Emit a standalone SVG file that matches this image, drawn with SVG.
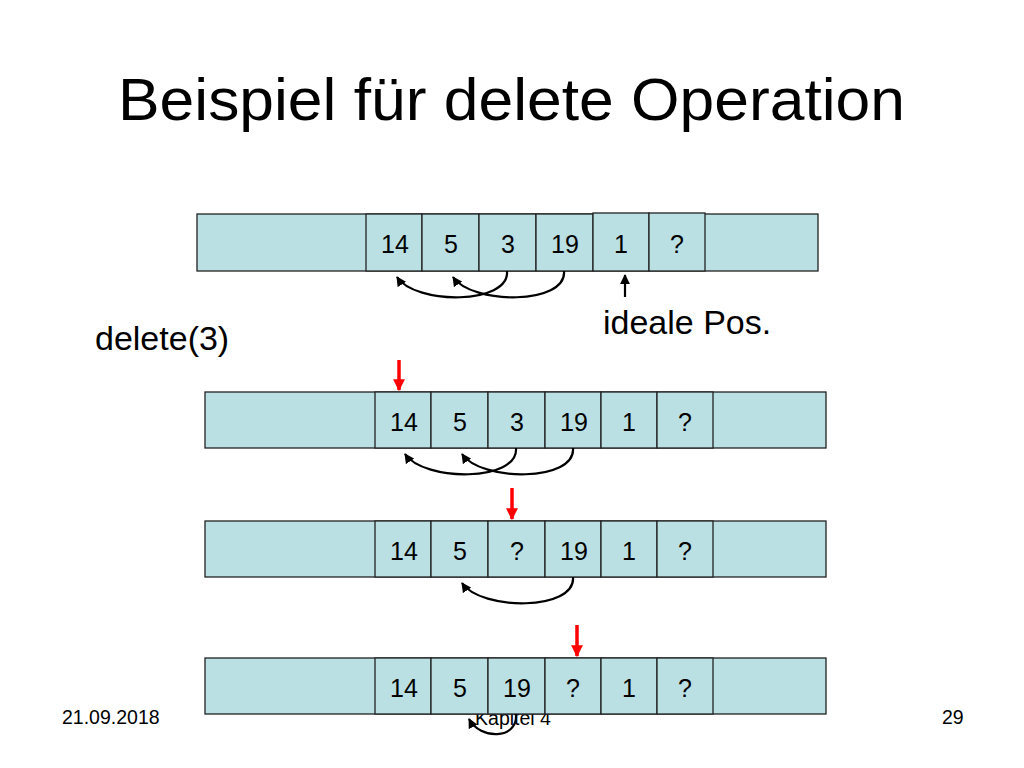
<svg xmlns="http://www.w3.org/2000/svg" width="1024" height="768" viewBox="0 0 1024 768">
<defs>
<style>
.t{font-family:"Liberation Sans",Arial,sans-serif;fill:#000}
.cell{fill:#BBE0E3;stroke:#222;stroke-width:1.3}
.c{font-size:25px;text-anchor:middle}
.f{font-size:19.5px}
.arc{fill:none;stroke:#000;stroke-width:2.2}
.red{stroke:#FF0000;stroke-width:3.5}
</style>
<marker id="ah" viewBox="0 0 10 10" refX="9" refY="5" markerWidth="4.5" markerHeight="4.5" orient="auto-start-reverse" markerUnits="strokeWidth">
<path d="M0,0 L10,5 L0,10 z" fill="#000"/>
</marker>
<marker id="rh" viewBox="0 0 10 10" refX="9" refY="5" markerWidth="3.4" markerHeight="3.4" orient="auto" markerUnits="strokeWidth">
<path d="M0,0 L10,5 L0,10 z" fill="#FF0000"/>
</marker>
</defs>
<rect width="1024" height="768" fill="#fff"/>
<text class="t" x="118" y="120" font-size="60" textLength="787" lengthAdjust="spacingAndGlyphs">Beispiel für delete Operation</text>
<text class="t f" x="62" y="724">21.09.2018</text>
<text class="t f" x="513" y="725" text-anchor="middle">Kapitel 4</text>
<text class="t f" x="942" y="724">29</text>

<g id="row1">
<rect class="cell" x="197" y="214" width="621" height="57"/>
<rect class="cell" x="366" y="214" width="56" height="57"/>
<rect class="cell" x="422" y="214" width="57" height="57"/>
<rect class="cell" x="479" y="214" width="57" height="57"/>
<rect class="cell" x="536" y="214" width="57" height="57"/>
<rect class="cell" x="593" y="213" width="56" height="58"/>
<rect class="cell" x="649" y="213" width="56" height="58"/>
<text class="t c" x="395" y="253">14</text>
<text class="t c" x="451" y="253">5</text>
<text class="t c" x="508" y="253">3</text>
<text class="t c" x="565" y="253">19</text>
<text class="t c" x="621" y="253">1</text>
<text class="t c" x="677" y="253">?</text>
</g>
<g id="row2">
<rect class="cell" x="205" y="392" width="621" height="56"/>
<rect class="cell" x="375" y="392" width="56" height="56"/>
<rect class="cell" x="431" y="392" width="57" height="56"/>
<rect class="cell" x="488" y="392" width="57" height="56"/>
<rect class="cell" x="545" y="392" width="56" height="56"/>
<rect class="cell" x="601" y="392" width="56" height="56"/>
<rect class="cell" x="657" y="392" width="56" height="56"/>
<text class="t c" x="404" y="431">14</text>
<text class="t c" x="460" y="431">5</text>
<text class="t c" x="517" y="431">3</text>
<text class="t c" x="574" y="431">19</text>
<text class="t c" x="629" y="431">1</text>
<text class="t c" x="685" y="431">?</text>
</g>
<g id="row3">
<rect class="cell" x="205" y="521" width="621" height="56"/>
<rect class="cell" x="375" y="521" width="56" height="56"/>
<rect class="cell" x="431" y="521" width="57" height="56"/>
<rect class="cell" x="488" y="521" width="57" height="56"/>
<rect class="cell" x="545" y="521" width="56" height="56"/>
<rect class="cell" x="601" y="521" width="56" height="56"/>
<rect class="cell" x="657" y="521" width="56" height="56"/>
<text class="t c" x="404" y="560">14</text>
<text class="t c" x="460" y="560">5</text>
<text class="t c" x="517" y="560">?</text>
<text class="t c" x="574" y="560">19</text>
<text class="t c" x="629" y="560">1</text>
<text class="t c" x="685" y="560">?</text>
</g>
<g id="row4">
<rect class="cell" x="205" y="658" width="621" height="56"/>
<rect class="cell" x="375" y="658" width="56" height="56"/>
<rect class="cell" x="431" y="658" width="57" height="56"/>
<rect class="cell" x="488" y="658" width="57" height="56"/>
<rect class="cell" x="545" y="658" width="56" height="56"/>
<rect class="cell" x="601" y="658" width="56" height="56"/>
<rect class="cell" x="657" y="658" width="56" height="56"/>
<text class="t c" x="404" y="697">14</text>
<text class="t c" x="460" y="697">5</text>
<text class="t c" x="517" y="697">19</text>
<text class="t c" x="573" y="697">?</text>
<text class="t c" x="629" y="697">1</text>
<text class="t c" x="685" y="697">?</text>
</g>
<g id="labels">
<text class="t" x="603" y="334" font-size="34">ideale Pos.</text>
<text class="t" x="95" y="350" font-size="34">delete(3)</text>
</g>
<g id="connectors">
<path class="arc" d="M507,271 C510,305 415,305 397,277" marker-end="url(#ah)"/>
<path class="arc" d="M564,271 C567,305 472,305 453,277" marker-end="url(#ah)"/>
<line x1="625" y1="297" x2="625" y2="275" stroke="#000" stroke-width="2.2" marker-end="url(#ah)"/>
<path class="arc" d="M516,448 C519,482 424,482 405,454" marker-end="url(#ah)"/>
<path class="arc" d="M573,448 C576,482 481,482 462,454" marker-end="url(#ah)"/>
<path class="arc" d="M573,577 C576,611 481,611 462,583" marker-end="url(#ah)"/>
<path class="arc" d="M516,714 C518,740 480,740 469,719" marker-end="url(#ah)"/>
<line class="red" x1="399" y1="360" x2="399" y2="390" marker-end="url(#rh)"/>
<line class="red" x1="512" y1="488" x2="512" y2="519" marker-end="url(#rh)"/>
<line class="red" x1="577" y1="625" x2="577" y2="656" marker-end="url(#rh)"/>
</g>
</svg>
